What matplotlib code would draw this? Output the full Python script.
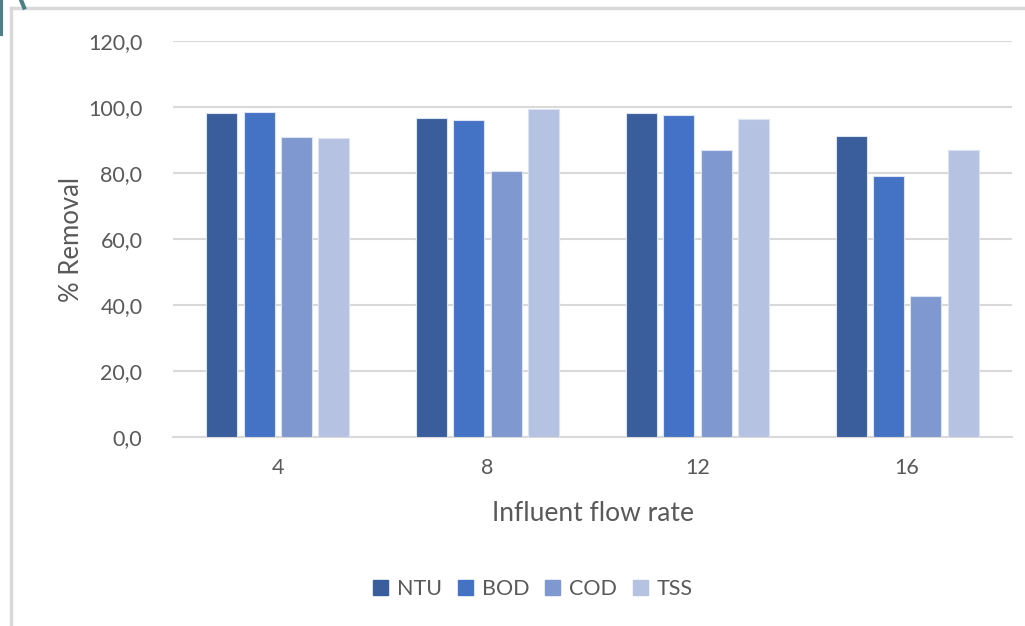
import numpy as np
import matplotlib
matplotlib.use("Agg")
import matplotlib.pyplot as plt
from matplotlib.lines import Line2D
from matplotlib.ticker import FuncFormatter

plt.rcParams['font.family'] = ['Lato', 'DejaVu Sans']

# removal efficiency (%) per influent flow rate
flow_rates = ['4', '8', '12', '16']
series = ['NTU', 'BOD', 'COD', 'TSS']
ntu = [98.1, 96.8, 98.2, 91.1]
bod = [98.5, 96.0, 97.5, 79.1]
cod = [90.9, 80.5, 86.9, 42.6]
tss = [90.5, 99.3, 96.5, 86.9]
colors = ['#3A5E9C', '#4472C4', '#8098D0', '#B5C2E1']

text_grey = '#595959'
grid_grey = '#D9D9D9'

fig = plt.figure(figsize=(10.25, 6.26), dpi=100)
ax = fig.add_axes([0.1688, 0.3019, 0.8185, 0.6326])

x = np.arange(len(flow_rates))
width = 0.148
step = 0.178
for i, (vals, c) in enumerate(zip([ntu, bod, cod, tss], colors)):
    ax.bar(x + (i - 1.5) * step, vals, width, color=c, label=series[i],
           edgecolor='#DCE3F2', linewidth=0.8, zorder=3)

ax.set_xlim(-0.5, 3.5)
ax.set_ylim(0, 120)
ax.set_yticks(np.arange(0, 121, 20))
ax.yaxis.set_major_formatter(FuncFormatter(lambda v, p: f"{v:.1f}".replace('.', ',')))
ax.set_xticks(x)
ax.set_xticklabels(flow_rates)
ax.grid(axis='y', color=grid_grey, linewidth=1.5, zorder=0)
for s in ['top', 'right', 'left']:
    ax.spines[s].set_visible(False)
ax.spines['bottom'].set_color(grid_grey)
ax.spines['bottom'].set_linewidth(1.5)
ax.tick_params(axis='both', length=0, labelsize=15.5, colors=text_grey)
ax.tick_params(axis='y', pad=22)
ax.tick_params(axis='x', pad=15)

ax.set_ylabel('% Removal', fontsize=18.5, color=text_grey, labelpad=3)
ax.set_xlabel('Influent flow rate', fontsize=19, color=text_grey, labelpad=17)

handles = [plt.Rectangle((0, 0), 1, 1, color=c) for c in colors]
fig.legend(handles, series, loc='center', bbox_to_anchor=(0.52, 0.059), ncol=4,
           frameon=False, fontsize=15.5, handlelength=0.7, handleheight=0.7,
           handletextpad=0.4, columnspacing=0.75, labelcolor=text_grey)

# outer chart frame and the edge of the neighbouring shape
fig.add_artist(Line2D([0.0112, 0.0112], [0, 0.987], color='#D9D9D9', lw=2.5, transform=fig.transFigure))
fig.add_artist(Line2D([0.0112, 1.0], [0.987, 0.987], color='#D9D9D9', lw=2.5, transform=fig.transFigure))
fig.add_artist(Line2D([0.001, 0.001], [0.946, 1.0], color='#4E7F86', lw=3, transform=fig.transFigure))
fig.add_artist(Line2D([0.0205, 0.0235], [1.0, 0.988], color='#4E7F86', lw=3, transform=fig.transFigure))

fig.savefig('out.png', dpi=100)
